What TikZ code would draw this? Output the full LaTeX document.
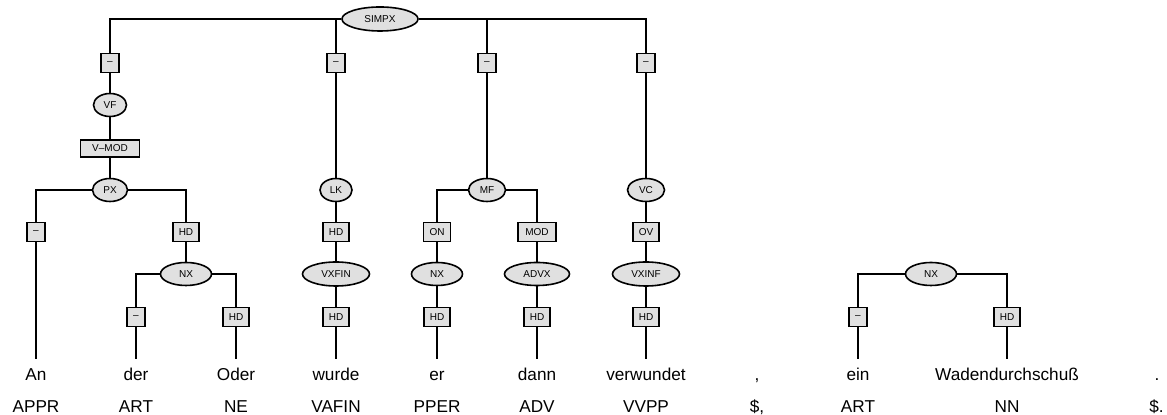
\documentclass[tikz,border=0pt]{standalone}
\usepackage{fontspec}
\setmainfont{Liberation Sans}
\usepackage{xcolor}
\usetikzlibrary{shapes.geometric}
\definecolor{catgray}{RGB}{224,224,224}

\begin{document}
\begin{tikzpicture}[x=0.5pt, y=-0.5pt, line width=0.8pt,
cat/.style={ellipse, draw, fill=catgray, font=\fontsize{5}{6}\selectfont, inner sep=0pt, minimum height=11.5pt, minimum width=17.5pt},
lbl/.style={rectangle, draw, fill=catgray, font=\fontsize{5}{6}\selectfont, inner xsep=3pt, inner ysep=0pt, minimum height=9.5pt, minimum width=8.5pt},
word/.style={font=\fontsize{8.6}{10}\selectfont, anchor=base, text height=6pt, text depth=1.7pt, inner xsep=0pt, inner ysep=4.5pt},
tag/.style={font=\fontsize{8.6}{10}\selectfont, anchor=base, inner sep=0pt}]
\useasboundingbox (0,0) rectangle (1167,415);

% categories
\node[cat, minimum width=38pt, minimum height=12pt] (simpx) at (380,19) {SIMPX};
\node[cat, minimum width=16.5pt] (vf) at (110,105) {VF};
\node[cat] (px) at (110,190) {PX};
\node[cat, minimum width=16pt] (lk) at (336,190) {LK};
\node[cat, minimum width=18.5pt] (mf) at (487,190) {MF};
\node[cat, minimum width=18.5pt] (vc) at (646,190) {VC};
\node[cat, minimum width=25.5pt] (nx pp) at (186,274) {NX};
\node[cat, minimum width=33.5pt, minimum height=12pt] (vxfin) at (336,274) {VXFIN};
\node[cat, minimum width=25.5pt] (nx er) at (437,274) {NX};
\node[cat, minimum width=32.5pt] (advx) at (537,274) {ADVX};
\node[cat, minimum width=33.5pt, minimum height=12pt] (vxinf) at (646,274) {VXINF};
\node[cat, minimum width=25.5pt] (nx np) at (931,274) {NX};

% edge labels
\node[lbl] (lbl vf) at (110,63) {–};
\node[lbl] (lbl lk) at (336,63) {–};
\node[lbl] (lbl mf) at (487,63) {–};
\node[lbl] (lbl vc) at (646,63) {–};
\node[lbl, minimum width=29.5pt, minimum height=8.5pt] (lbl px) at (110,148.5) {V–MOD};
\node[lbl] (lbl an) at (36,232) {–};
\node[lbl] (lbl nx pp) at (186,232) {HD};
\node[lbl] (lbl vxfin) at (336,232) {HD};
\node[lbl] (lbl nx er) at (437,232) {ON};
\node[lbl, minimum width=19pt] (lbl advx) at (537,232) {MOD};
\node[lbl] (lbl vxinf) at (646,232) {OV};
\node[lbl] (lbl der) at (136,317) {–};
\node[lbl] (lbl oder) at (236,317) {HD};
\node[lbl] (lbl wurde) at (336,317) {HD};
\node[lbl] (lbl er) at (437,317) {HD};
\node[lbl] (lbl dann) at (537,317) {HD};
\node[lbl] (lbl verwundet) at (646,317) {HD};
\node[lbl] (lbl ein) at (858,317) {–};
\node[lbl] (lbl wad) at (1007,317) {HD};

% words
\node[word] (w an) at (36,380.5) {An};
\node[word] (w der) at (136,380.5) {der};
\node[word] (w oder) at (236,380.5) {Oder};
\node[word] (w wurde) at (336,380.5) {wurde};
\node[word] (w er) at (437,380.5) {er};
\node[word] (w dann) at (537,380.5) {dann};
\node[word] (w verwundet) at (646,380.5) {verwundet};
\node[word] (w comma) at (757,380.5) {,};
\node[word] (w ein) at (858,380.5) {ein};
\node[word] (w wad) at (1007,380.5) {Wadendurchschuß};
\node[word] (w stop) at (1157,380.5) {.};

% tags
\node[tag] (t an) at (36,413) {APPR};
\node[tag] (t der) at (136,413) {ART};
\node[tag] (t oder) at (236,413) {NE};
\node[tag] (t wurde) at (336,413) {VAFIN};
\node[tag] (t er) at (437,413) {PPER};
\node[tag] (t dann) at (537,413) {ADV};
\node[tag] (t verwundet) at (646,413) {VVPP};
\node[tag] (t comma) at (757,413) {\$,};
\node[tag] (t ein) at (858,413) {ART};
\node[tag] (t wad) at (1007,413) {NN};
\node[tag] (t stop) at (1156.5,413) {\$.};

% edges
\draw (simpx.west) -| (lbl vf);
\draw (simpx.west) -| (lbl lk);
\draw (simpx.east) -| (lbl mf);
\draw (simpx.east) -| (lbl vc);
\draw (lbl vf) -- (vf);
\draw (vf) -- (lbl px);
\draw (lbl px) -- (px);
\draw (px.west) -| (lbl an);
\draw (px.east) -| (lbl nx pp);
\draw (lbl an) -- (w an);
\draw (lbl nx pp) -- (nx pp);
\draw (nx pp.west) -| (lbl der);
\draw (nx pp.east) -| (lbl oder);
\draw (lbl der) -- (w der);
\draw (lbl oder) -- (w oder);
\draw (lbl lk) -- (lk);
\draw (lk) -- (lbl vxfin);
\draw (lbl vxfin) -- (vxfin);
\draw (vxfin) -- (lbl wurde);
\draw (lbl wurde) -- (w wurde);
\draw (lbl mf) -- (mf);
\draw (mf.west) -| (lbl nx er);
\draw (mf.east) -| (lbl advx);
\draw (lbl nx er) -- (nx er);
\draw (nx er) -- (lbl er);
\draw (lbl er) -- (w er);
\draw (lbl advx) -- (advx);
\draw (advx) -- (lbl dann);
\draw (lbl dann) -- (w dann);
\draw (lbl vc) -- (vc);
\draw (vc) -- (lbl vxinf);
\draw (lbl vxinf) -- (vxinf);
\draw (vxinf) -- (lbl verwundet);
\draw (lbl verwundet) -- (w verwundet);
\draw (nx np.west) -| (lbl ein);
\draw (nx np.east) -| (lbl wad);
\draw (lbl ein) -- (w ein);
\draw (lbl wad) -- (w wad);
\end{tikzpicture}
\end{document}
